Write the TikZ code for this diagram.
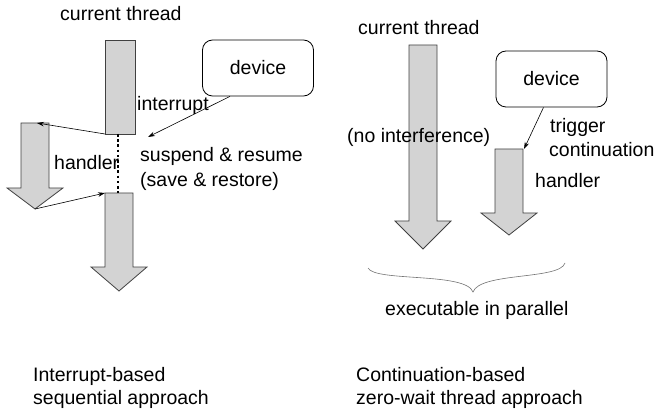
\documentclass[tikz,border=0pt]{standalone}
\usepackage{fontspec}
\setmainfont{Liberation Sans}
\usetikzlibrary{arrows.meta,calc}
\definecolor{fatgray}{RGB}{211,211,211}
\begin{document}
\begin{tikzpicture}[x=1pt,y=-1pt,
  fat/.style={draw=black!75, line width=0.8pt, fill=fatgray},
  lbl/.style={inner sep=0pt, anchor=base west, font=\fontsize{19.5}{24}\selectfont},
  conn/.style={-{Stealth[length=7pt,width=4.5pt]}, line width=0.6pt},
  devbox/.style={draw, line width=0.8pt, rounded corners=10pt, inner sep=0pt,
    minimum width=111pt, minimum height=56pt, font=\fontsize{19.5}{24}\selectfont},
  brace/.style={draw=black!55, line width=0.6pt}
]
\useasboundingbox (0,0) rectangle (656,414);

% ---------- left: interrupt-based ----------
\draw[fat] (105,40) coordinate (c1tl) rectangle (135,134) coordinate (c1br);
\coordinate (c1bl) at (105,134);
\coordinate (c1b) at (118,134);
\draw[fat] (21,123) -- (49,123) -- (49,188) -- (63,188) -- (35,209) coordinate (h1tip)
  -- (7,188) -- (21,188) -- cycle;
\coordinate (h1top) at (37,123);
\draw[fat] (105,193) coordinate (c2tl) -- (133,193) -- (133,267) -- (147,267)
  -- (119,291) -- (91,267) -- (105,267) -- cycle;
\coordinate (c2t) at (118,193);

\node[devbox] (dev1) at (258,68) {device};
\coordinate (intp) at (148,137);

\node[lbl] (t1) at (60,21) {current thread};
\node[lbl] (intr) at (137,111) {interrupt};
\node[lbl] (hd1) at (54,170) {handler};
\node[lbl] (sus) at (140,162) {suspend \& resume};
\node[lbl] (sav) at (140,187) {(save \& restore)};
\node[lbl] (cap1a) at (33,381) {Interrupt-based};
\node[lbl] (cap1b) at (33,404) {sequential approach};

\draw[conn] (c1bl) -- (h1top);
\draw[conn] (h1tip) -- (c2tl);
\draw[conn] ([xshift=-28pt]dev1.south) -- (intp);
\draw[line width=2.6pt, dash pattern=on 2.6pt off 2.6pt] (c1b) -- (c2t);

% ---------- right: continuation-based ----------
\draw[fat] (409,45) -- (437,45) -- (437,221) -- (451,221) -- (423,249) -- (395,221)
  -- (409,221) -- cycle;
\draw[fat] (495,149) -- (523,149) coordinate (h2tr) -- (523,213) -- (537,213)
  -- (509,235) -- (481,213) -- (495,213) -- cycle;

\node[devbox] (dev2) at (551.5,79) {device};

\node[lbl] (t2) at (358,35) {current thread};
\node[lbl] (noint) at (347,143) {(no interference)};
\node[lbl] (trig) at (550,133) {trigger};
\node[lbl] (cont) at (549,157) {continuation};
\node[lbl] (hd2) at (535,188) {handler};
\node[lbl] (par) at (385,315) {executable in parallel};
\node[lbl] (cap2a) at (356,381) {Continuation-based};
\node[lbl] (cap2b) at (356,404) {zero-wait thread approach};

\draw[conn] ([xshift=-8pt]dev2.south) -- ([xshift=1pt]h2tr);

\coordinate (brl) at (368,268);
\coordinate (brm) at (473,292);
\coordinate (brr) at (565,263);
\draw[brace] (brl) .. controls (375,282) and (466,272) .. (brm)
  .. controls (480,272) and (560,280) .. (brr);
\end{tikzpicture}
\end{document}
